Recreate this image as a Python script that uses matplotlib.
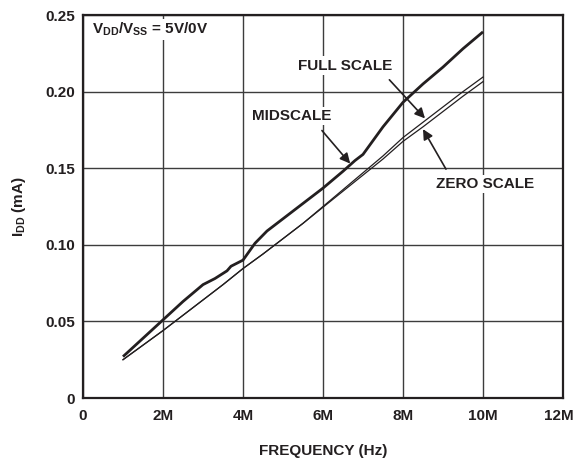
import matplotlib
matplotlib.use("Agg")
import matplotlib.pyplot as plt
from matplotlib.transforms import ScaledTranslation

plt.rcParams["font.family"] = ["Liberation Sans", "DejaVu Sans"]
plt.rcParams["font.weight"] = "bold"
plt.rcParams["axes.labelweight"] = "bold"
plt.rcParams["mathtext.fontset"] = "custom"
plt.rcParams["mathtext.rm"] = "Liberation Sans:bold"
plt.rcParams["mathtext.it"] = "Liberation Sans:bold"
plt.rcParams["mathtext.bf"] = "Liberation Sans:bold"

INK = "#231f20"
GRID = "#3c3c3c"
FS = 11

# Supply current vs. clock frequency, VDD/VSS = 5V/0V
freq_mid = [1, 1.5, 2, 2.5, 3, 3.3, 3.6, 3.7, 4, 4.3, 4.6, 5, 5.5, 6,
            6.5, 6.8, 7, 7.5, 8, 8.5, 9, 9.5, 10]
idd_mid = [0.027, 0.039, 0.051, 0.063, 0.074, 0.078, 0.083, 0.086, 0.090,
           0.101, 0.109, 0.117, 0.127, 0.137, 0.148, 0.155, 0.159, 0.177,
           0.193, 0.205, 0.216, 0.228, 0.239]

freq_code = [1, 1.5, 2, 2.5, 3, 3.5, 4, 4.5, 5, 5.5, 6, 6.5, 7, 7.5, 8,
             8.5, 9, 9.5, 10]
idd_full = [0.025, 0.0345, 0.044, 0.054, 0.064, 0.074, 0.0845, 0.094,
            0.104, 0.114, 0.125, 0.136, 0.147, 0.158, 0.170, 0.180, 0.190,
            0.200, 0.2095]
idd_zero = [0.025, 0.0345, 0.044, 0.054, 0.064, 0.074, 0.0845, 0.094,
            0.104, 0.114, 0.1245, 0.135, 0.1455, 0.156, 0.1675, 0.177,
            0.187, 0.197, 0.2065]

x_ticks = [0, 2, 4, 6, 8, 10, 12]
x_labels = ["0", "2M", "4M", "6M", "8M", "10M", "12M"]
y_ticks = [0, 0.05, 0.10, 0.15, 0.20, 0.25]
y_labels = ["0", "0.05", "0.10", "0.15", "0.20", "0.25"]

fig = plt.figure(figsize=(5.76, 4.63), dpi=100)
ax = fig.add_axes([83 / 576, 65 / 463, 480 / 576, 383 / 463])

ax.plot(freq_mid, idd_mid, color=INK, lw=2.0, solid_capstyle="butt", zorder=3)
ax.plot(freq_code, idd_full, color=INK, lw=0.9, zorder=3)
ax.plot(freq_code, idd_zero, color=INK, lw=0.9, zorder=3)

ax.set_xlim(0, 12)
ax.set_ylim(0, 0.25)
ax.set_xticks(x_ticks)
ax.set_xticklabels(x_labels)
ax.set_yticks(y_ticks)
ax.set_yticklabels(y_labels)
ax.tick_params(length=0, labelsize=FS, colors=INK)
ax.tick_params(axis="x", pad=8)
ax.tick_params(axis="y", pad=6)
ax.grid(True, color=GRID, lw=1.0)
ax.set_axisbelow(True)
for s in ax.spines.values():
    s.set_color(INK)
    s.set_linewidth(1.6)

# keep the last frequency label inside the figure
last = ax.get_xticklabels()[-1]
last.set_transform(last.get_transform()
                   + ScaledTranslation(-3 / 72, 0, fig.dpi_scale_trans))

ax.set_xlabel("FREQUENCY (Hz)", fontsize=FS, color=INK, va="center")
ax.set_ylabel(r"$\mathrm{I_{DD}}$ (mA)", fontsize=FS, color=INK, va="center")
ax.xaxis.set_label_coords(0.5, -0.138)
ax.yaxis.set_label_coords(-0.133, 0.5)

box = dict(facecolor="white", edgecolor="none", pad=1.5)
ax.text(0.22, 0.2405, r"$\mathrm{V_{DD}/V_{SS}}$ = 5V/0V", fontsize=FS,
        color=INK, ha="left", va="center", bbox=box, zorder=4)

ax.annotate("MIDSCALE", xy=(6.68, 0.153), xytext=(5.22, 0.184),
            fontsize=FS, color=INK, ha="center", va="center", bbox=box,
            arrowprops=dict(arrowstyle="-|>", color=INK, lw=1.2,
                            mutation_scale=15, shrinkA=5, shrinkB=0,
                            relpos=(0.8, 0.0)), zorder=4)
ax.annotate("FULL SCALE", xy=(8.55, 0.1825), xytext=(6.55, 0.217),
            fontsize=FS, color=INK, ha="center", va="center", bbox=box,
            arrowprops=dict(arrowstyle="-|>", color=INK, lw=1.2,
                            mutation_scale=15, shrinkA=5, shrinkB=0,
                            relpos=(0.9, 0.0)), zorder=4)
ax.annotate("ZERO SCALE", xy=(8.5, 0.1755), xytext=(10.05, 0.1395),
            fontsize=FS, color=INK, ha="center", va="center", bbox=box,
            arrowprops=dict(arrowstyle="-|>", color=INK, lw=1.2,
                            mutation_scale=15, shrinkA=5, shrinkB=0,
                            relpos=(0.15, 1.0)), zorder=4)

fig.savefig("out.png", dpi=100)
